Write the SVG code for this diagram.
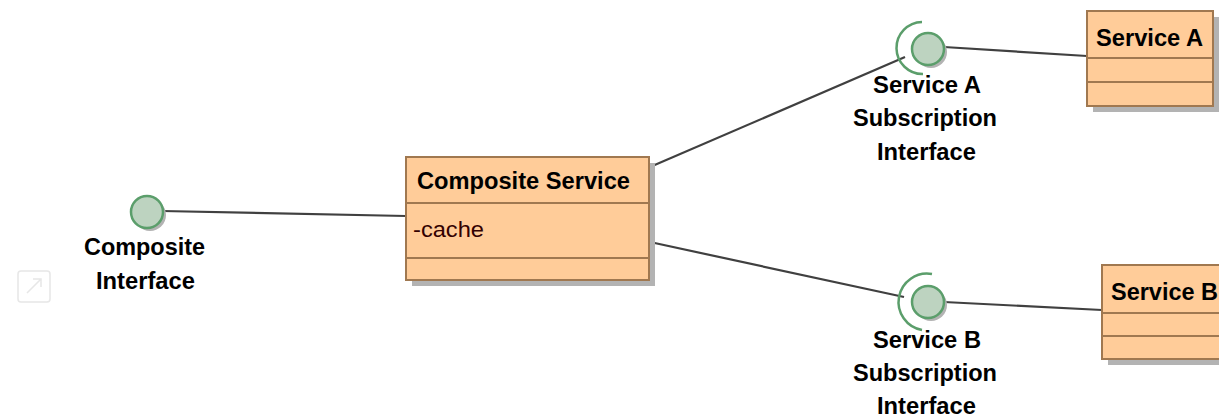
<svg xmlns="http://www.w3.org/2000/svg" width="1219" height="417" viewBox="0 0 1219 417">
<style>
.box{fill:#FFCC99;stroke:#A07850;stroke-width:2}
.div{stroke:#A07850;stroke-width:2}
.sh{fill:#B3B3B3}
.ball{fill:#BDD3C0;stroke:#5B9E6B;stroke-width:2.5}
.sock{fill:none;stroke:#5B9E6B;stroke-width:2.5}
.con{stroke:#404040;stroke-width:2.2;fill:none}
.t{font-family:"Liberation Sans Narrow","Liberation Sans",Arial,sans-serif;font-weight:bold;font-size:23px;fill:#000}
.attr{font-family:"Liberation Sans Narrow","Liberation Sans",Arial,sans-serif;font-size:22px;fill:#330000}
</style>
<rect width="1219" height="417" fill="#fff"/>
<g id="icon" opacity="0.35">
<rect x="18" y="271" width="32" height="31" rx="3" fill="none" stroke="#bbb" stroke-width="1.5"/>
<path d="M27 293 L41 279 M33 279 L41 279 L41 287" fill="none" stroke="#bbb" stroke-width="1.5"/>
</g>
<g id="connectors">
<line class="con" x1="162" y1="211" x2="406" y2="216"/>
<line class="con" x1="650" y1="167" x2="905" y2="57"/>
<line class="con" x1="944" y1="47" x2="1087" y2="56"/>
<line class="con" x1="650" y1="242" x2="904" y2="297"/>
<line class="con" x1="944" y1="302" x2="1102" y2="310"/>
</g>
<g id="composite-interface">
<circle class="sh" cx="150" cy="215" r="16"/>
<circle class="ball" cx="147" cy="212" r="16"/>
<text class="t" x="84" y="255" textLength="121" lengthAdjust="spacingAndGlyphs">Composite</text>
<text class="t" x="96" y="289" textLength="99" lengthAdjust="spacingAndGlyphs">Interface</text>
</g>
<g id="composite-service">
<rect class="sh" x="412" y="163" width="243" height="123"/>
<rect class="box" x="406" y="157" width="243" height="123"/>
<line class="div" x1="406" y1="203" x2="649" y2="203"/>
<line class="div" x1="406" y1="258" x2="649" y2="258"/>
<text class="t" x="417" y="189" textLength="213" lengthAdjust="spacingAndGlyphs">Composite Service</text>
<text class="attr" x="413" y="237" textLength="71" lengthAdjust="spacingAndGlyphs">-cache</text>
</g>
<g id="service-a-interface">
<circle class="sh" cx="931" cy="52" r="16"/>
<circle class="ball" cx="928" cy="49" r="16"/>
<path class="sock" d="M922 22 A26 26 0 0 0 923 74"/>
<text class="t" x="873" y="93" textLength="108" lengthAdjust="spacingAndGlyphs">Service A</text>
<text class="t" x="853" y="126" textLength="144" lengthAdjust="spacingAndGlyphs">Subscription</text>
<text class="t" x="877" y="160" textLength="99" lengthAdjust="spacingAndGlyphs">Interface</text>
</g>
<g id="service-b-interface">
<circle class="sh" cx="931" cy="305" r="16"/>
<circle class="ball" cx="928" cy="302" r="16"/>
<path class="sock" d="M932 274 A26 26 0 0 0 922 330"/>
<text class="t" x="873" y="348" textLength="108" lengthAdjust="spacingAndGlyphs">Service B</text>
<text class="t" x="853" y="381" textLength="144" lengthAdjust="spacingAndGlyphs">Subscription</text>
<text class="t" x="877" y="414" textLength="99" lengthAdjust="spacingAndGlyphs">Interface</text>
</g>
<g id="service-a">
<rect class="sh" x="1093" y="17" width="126" height="95"/>
<rect class="box" x="1087" y="11" width="126" height="95"/>
<line class="div" x1="1087" y1="58" x2="1213" y2="58"/>
<line class="div" x1="1087" y1="82" x2="1213" y2="82"/>
<text class="t" x="1096" y="46" textLength="107" lengthAdjust="spacingAndGlyphs">Service A</text>
</g>
<g id="service-b">
<rect class="sh" x="1108" y="271" width="126" height="94"/>
<rect class="box" x="1102" y="265" width="126" height="94"/>
<line class="div" x1="1102" y1="313" x2="1228" y2="313"/>
<line class="div" x1="1102" y1="336" x2="1228" y2="336"/>
<text class="t" x="1111" y="300" textLength="107" lengthAdjust="spacingAndGlyphs">Service B</text>
</g>
</svg>
